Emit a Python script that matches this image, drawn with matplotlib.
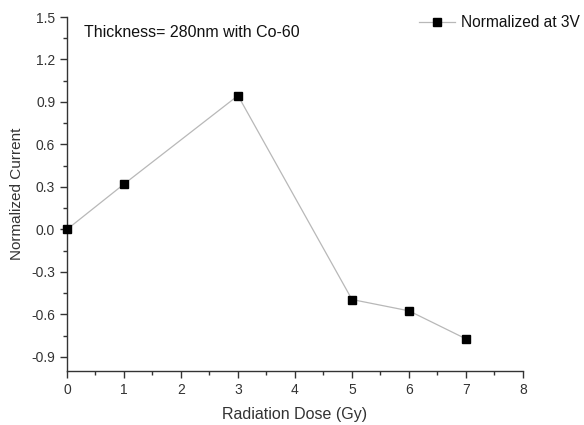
import matplotlib
matplotlib.use("Agg")
import matplotlib.pyplot as plt
from matplotlib.ticker import MultipleLocator
from matplotlib.lines import Line2D

dose = [0, 1, 3, 5, 6, 7]
current = [0.0, 0.32, 0.945, -0.495, -0.575, -0.773]
x_ticks = [0, 1, 2, 3, 4, 5, 6, 7, 8]
y_ticks = [-0.9, -0.6, -0.3, 0.0, 0.3, 0.6, 0.9, 1.2, 1.5]

plt.rcParams['font.family'] = ['Liberation Sans', 'DejaVu Sans']
tc = '#333333'

fig = plt.figure(figsize=(5.84, 4.25), dpi=100)
ax = fig.add_axes([0.1147, 0.127, 0.7808, 0.833])

ax.plot(dose, current, color='#b8b8b8', lw=0.9, marker='s', ms=5.5,
        mfc='black', mec='black', zorder=3, clip_on=False)

ax.set_xlim(0, 8)
ax.set_ylim(-1.0, 1.5)
ax.set_xticks(x_ticks)
ax.set_yticks(y_ticks)
ax.set_yticklabels([f"{v:.1f}" for v in y_ticks])
ax.xaxis.set_minor_locator(MultipleLocator(0.5))
ax.yaxis.set_minor_locator(MultipleLocator(0.15))

for s in ['top', 'right']:
    ax.spines[s].set_visible(False)
for s in ['left', 'bottom']:
    ax.spines[s].set_color('#333333')
    ax.spines[s].set_linewidth(1.0)

ax.tick_params(which='major', direction='out', length=5, width=1.0,
               colors='#333333', labelsize=10, labelcolor=tc)
ax.tick_params(which='minor', direction='out', length=3, width=1.0,
               colors='#333333')

ax.set_xlabel('Radiation Dose (Gy)', fontsize=11.5, color=tc, labelpad=7)
ax.set_ylabel('Normalized Current', fontsize=11, color=tc, labelpad=5)

ax.text(0.3, 1.39, 'Thickness= 280nm with Co-60', fontsize=11.5,
        color='#111111', va='center', ha='left')

handle = Line2D([], [], color='#b8b8b8', lw=0.9, marker='s', ms=5.5,
                mfc='black', mec='black')
fig.legend([handle], ['Normalized at 3V'], loc='upper right',
           bbox_to_anchor=(1.017, 0.997), frameon=False, fontsize=11.2,
           handlelength=2.3, handletextpad=0.4, labelcolor='#111111')

fig.savefig('out.png', dpi=100)
